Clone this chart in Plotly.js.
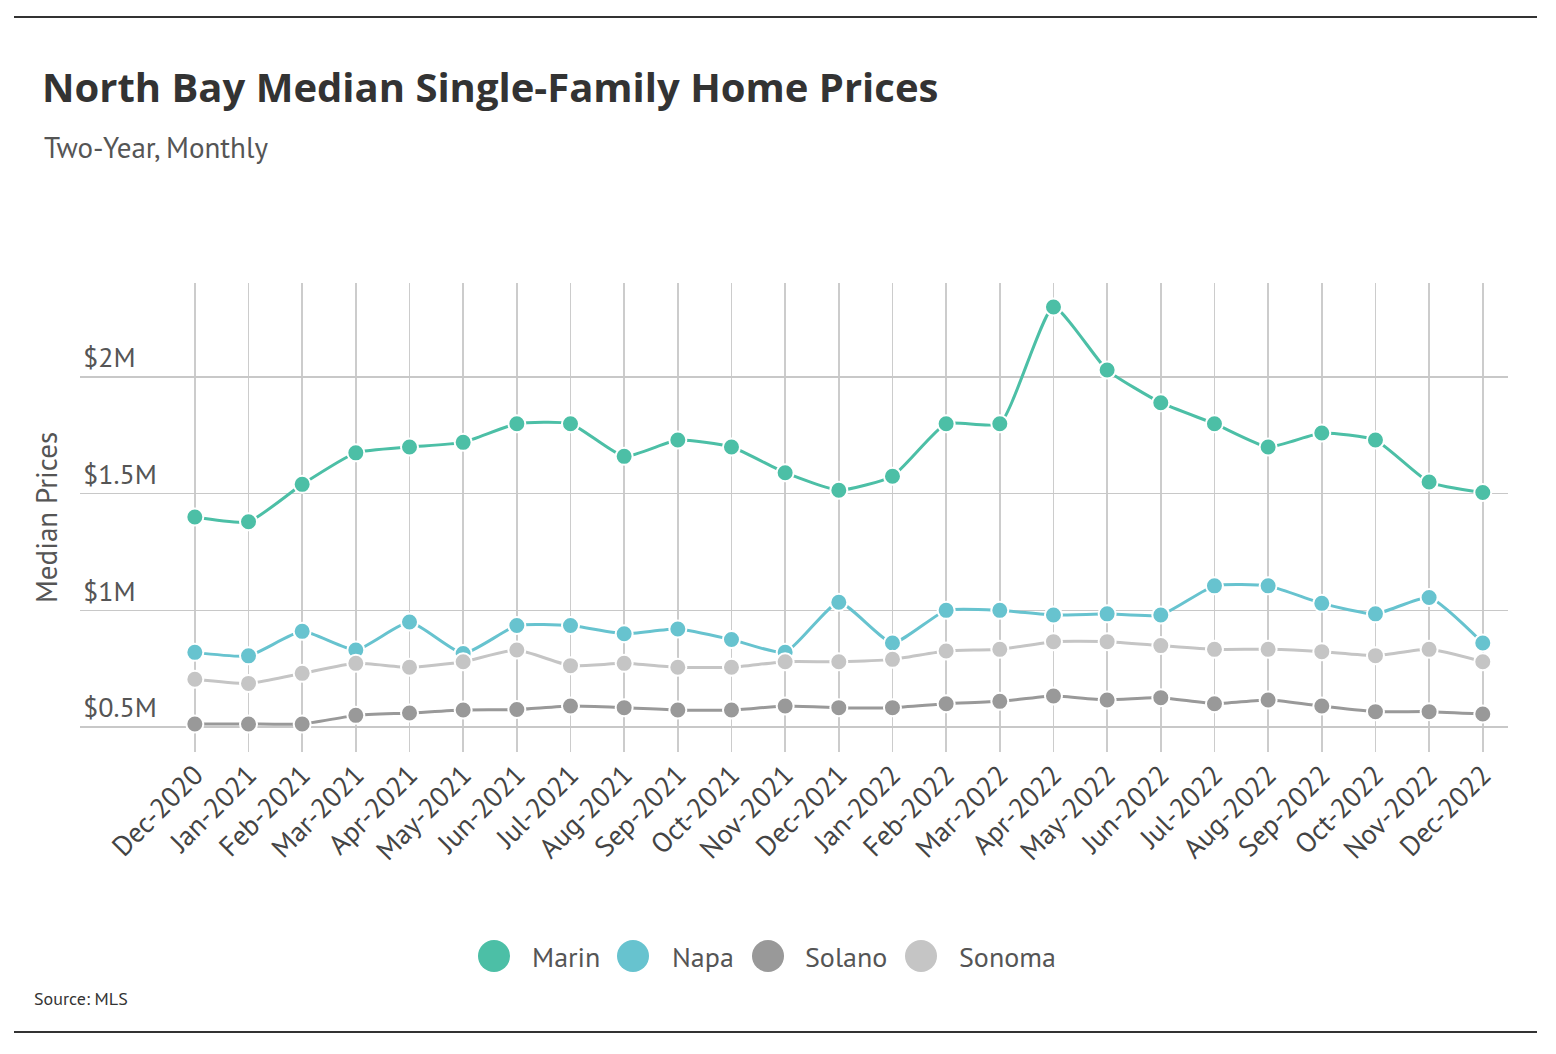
<!DOCTYPE html>
<html>
<head>
<meta charset="utf-8">
<script src="https://cdn.plot.ly/plotly-3.0.1.min.js"></script>
<style>
  html, body { margin: 0; padding: 0; background: #fff; }
  #chart { width: 1556px; height: 1054px; }
</style>
</head>
<body>
<div id="chart"></div>
<script>
const months = ['Dec-2020','Jan-2021','Feb-2021','Mar-2021','Apr-2021','May-2021','Jun-2021','Jul-2021','Aug-2021','Sep-2021','Oct-2021','Nov-2021','Dec-2021','Jan-2022','Feb-2022','Mar-2022','Apr-2022','May-2022','Jun-2022','Jul-2022','Aug-2022','Sep-2022','Oct-2022','Nov-2022','Dec-2022'];

const marin  = [1400000,1380000,1540000,1675000,1700000,1720000,1800000,1800000,1660000,1730000,1700000,1590000,1515000,1575000,1800000,1800000,2300000,2030000,1890000,1800000,1700000,1760000,1730000,1550000,1505000];
const napa   = [820000,805000,910000,830000,950000,815000,935000,935000,900000,920000,875000,820000,1035000,860000,1000000,1000000,980000,985000,980000,1105000,1105000,1030000,985000,1055000,860000];
const solano = [513000,513000,513000,550000,560000,573000,575000,590000,583000,573000,573000,590000,583000,583000,600000,610000,633000,616000,626000,600000,616000,590000,566000,566000,556000];
const sonoma = [705000,687000,730000,773000,756000,780000,830000,763000,773000,756000,756000,780000,780000,790000,826000,833000,866000,866000,849000,833000,833000,823000,806000,833000,780000];

const seriesNames = ['Marin','Napa','Solano','Sonoma'];
const seriesValues = [marin, napa, solano, sonoma];
const seriesColors = ['#4cbfa6','#67c3cf','#999999','#c5c5c5'];

const yTickVals = [500000,1000000,1500000,2000000];
const yTickText = ['$0.5M','$1M','$1.5M','$2M'];

const FONT = 'PT Sans, Lato, Roboto, sans-serif';
const TITLE_FONT = 'Open Sans, Lato, sans-serif';

// plot area in pixels
const L = 80, R = 1508, T = 283, B = 752;
const px = x => (x - L) / (R - L);
const py = y => (B - y) / (B - T);

const traces = seriesNames.map((n, i) => ({
  type: 'scatter',
  mode: 'lines+markers',
  name: n,
  x: months,
  y: seriesValues[i],
  line: { color: seriesColors[i], width: 3, shape: 'spline', smoothing: 0.5 },
  marker: { color: seriesColors[i], size: 17, line: { color: '#ffffff', width: 2 } },
  hoverinfo: 'skip',
  showlegend: false
}));

// custom legend (large circles)
const legendCircleX = [494, 633, 768, 921];
const legendTextX = [530, 670, 803, 957];
const legendY = 956;

const shapes = [
  { type: 'line', xref: 'paper', yref: 'paper', x0: px(14), x1: px(1537), y0: py(17), y1: py(17), line: { color: '#333333', width: 2 } },
  { type: 'line', xref: 'paper', yref: 'paper', x0: px(14), x1: px(1537), y0: py(1032), y1: py(1032), line: { color: '#333333', width: 2 } }
];
seriesNames.forEach((n, i) => {
  shapes.push({
    type: 'circle', xref: 'paper', yref: 'paper',
    x0: px(legendCircleX[i] - 16), x1: px(legendCircleX[i] + 16),
    y0: py(legendY + 16), y1: py(legendY - 16),
    fillcolor: seriesColors[i], line: { width: 0 }
  });
});

const annotations = [
  { text: 'Two-Year, Monthly', xref: 'paper', yref: 'paper', x: px(42), y: py(147), xanchor: 'left', yanchor: 'middle', showarrow: false, font: { family: FONT, size: 29, color: '#555555' } },
  { text: 'Source: MLS', xref: 'paper', yref: 'paper', x: px(32), y: py(999), xanchor: 'left', yanchor: 'middle', showarrow: false, font: { family: FONT, size: 18, color: '#333333' } }
];
seriesNames.forEach((n, i) => {
  annotations.push({
    text: n, xref: 'paper', yref: 'paper', x: px(legendTextX[i]), y: py(legendY),
    xanchor: 'left', yanchor: 'middle', showarrow: false,
    font: { family: FONT, size: 28, color: '#555555' }
  });
});

const layout = {
  width: 1556, height: 1054,
  margin: { l: L, r: 1556 - R, t: T, b: 1054 - B, pad: 0 },
  paper_bgcolor: '#ffffff', plot_bgcolor: '#ffffff',
  font: { family: FONT, color: '#444444' },
  title: {
    text: '<b>North Bay Median Single-Family Home Prices</b>',
    xref: 'container', yref: 'container',
    x: 42 / 1556, xanchor: 'left',
    y: 1 - 88 / 1054, yanchor: 'middle',
    font: { family: TITLE_FONT, size: 40, color: '#333333' }
  },
  xaxis: {
    type: 'category',
    categoryorder: 'array', categoryarray: months,
    range: [-2.14, 24.47],
    showgrid: true, gridcolor: '#cccccc', gridwidth: 1.5,
    zeroline: false, showline: false,
    ticks: '', tickangle: -45,
    tickfont: { family: FONT, size: 28, color: '#444444' },
    fixedrange: true
  },
  yaxis: {
    range: [393000, 2403000],
    tickvals: yTickVals, ticktext: yTickText,
    ticklabelposition: 'inside top',
    tickfont: { family: FONT, size: 28, color: '#555555' },
    showgrid: true, gridcolor: '#c8c8c8', gridwidth: 1.5,
    zeroline: false, showline: false, ticks: '',
    title: { text: 'Median Prices', font: { family: FONT, size: 29, color: '#555555' }, standoff: 16 },
    automargin: false,
    fixedrange: true
  },
  showlegend: false,
  shapes: shapes,
  annotations: annotations
};

Plotly.newPlot('chart', traces, layout, { displayModeBar: false, staticPlot: true });
</script>
</body>
</html>
